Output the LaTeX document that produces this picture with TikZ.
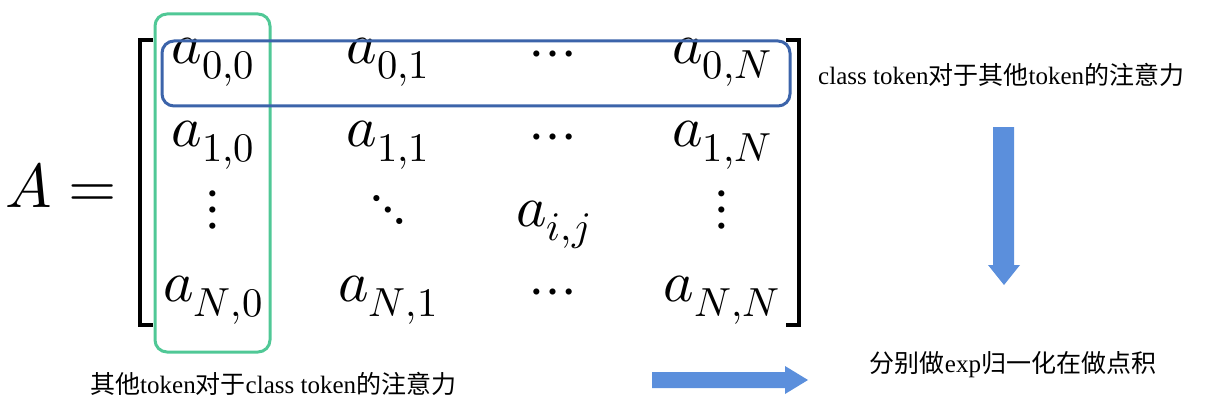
\documentclass[tikz,border=0pt]{standalone}
\usepackage{unicode-math}
\setmainfont{Liberation Serif}
\setmathfont{Latin Modern Math}
\newfontfamily\cjk{Noto Sans CJK SC}
\definecolor{grn}{RGB}{80,200,150}
\definecolor{blu}{RGB}{60,100,170}
\definecolor{arr}{RGB}{91,143,220}
\begin{document}
\begin{tikzpicture}[x=1pt,y=-1pt,
  ent/.style={font=\fontsize{58}{62}\selectfont, inner sep=0},
  lbl/.style={font=\fontsize{25}{28}\selectfont, inner sep=0}]
\useasboundingbox (0,0) rectangle (1214,409);
\node[font=\fontsize{62}{66}\selectfont, anchor=west, inner sep=0] (A) at (5,185) {$A=$};
% brackets
\draw[line width=4pt] (153,40) -- (140,40) -- (140,325) -- (153,325);
\draw[line width=4pt] (786,40) -- (799,40) -- (799,325) -- (786,325);
\foreach \r/\y/\s in {0/62/0,1/145/1,N/300/N}{
  \node[ent] (e\r0) at (213,\y) {$a_{\s,0}$};
  \node[ent] (e\r1) at (388,\y) {$a_{\s,1}$};
  \node[ent] (e\r2) at (553,\y-2) {$\cdots$};
  \node[ent] (e\r3) at (722,\y) {$a_{\s,N}$};
}
\node[ent] (v0) at (213,210) {$\vdots$};
\node[ent] (v1) at (388,210) {$\ddots$};
\node[ent] (aij) at (553,225) {$a_{i,j}$};
\node[ent] (v3) at (722,210) {$\vdots$};
\draw[grn, line width=3pt, rounded corners=12pt] (155,14) rectangle (270,352);
\draw[blu, line width=3pt, rounded corners=12pt] (162,41) rectangle (790,106);
\node[lbl, anchor=west] (t1) at (818,75) {class token{\cjk 对于其他}token{\cjk 的注意力}};
\node[lbl, anchor=west] (t2) at (90,384) {{\cjk 其他}token{\cjk 对于}class token{\cjk 的注意力}};
\node[lbl] (t3) at (1013,365) {{\cjk 分别做}exp{\cjk 归一化在做点积}};
\fill[arr] (993,127) -- (1014,127) -- (1014,265) -- (1020,265) -- (1004,285) -- (988,265) -- (993,265) -- cycle;
\fill[arr] (652,372) -- (785,372) -- (785,366) -- (808,380) -- (785,394) -- (785,388) -- (652,388) -- cycle;
\end{tikzpicture}
\end{document}
